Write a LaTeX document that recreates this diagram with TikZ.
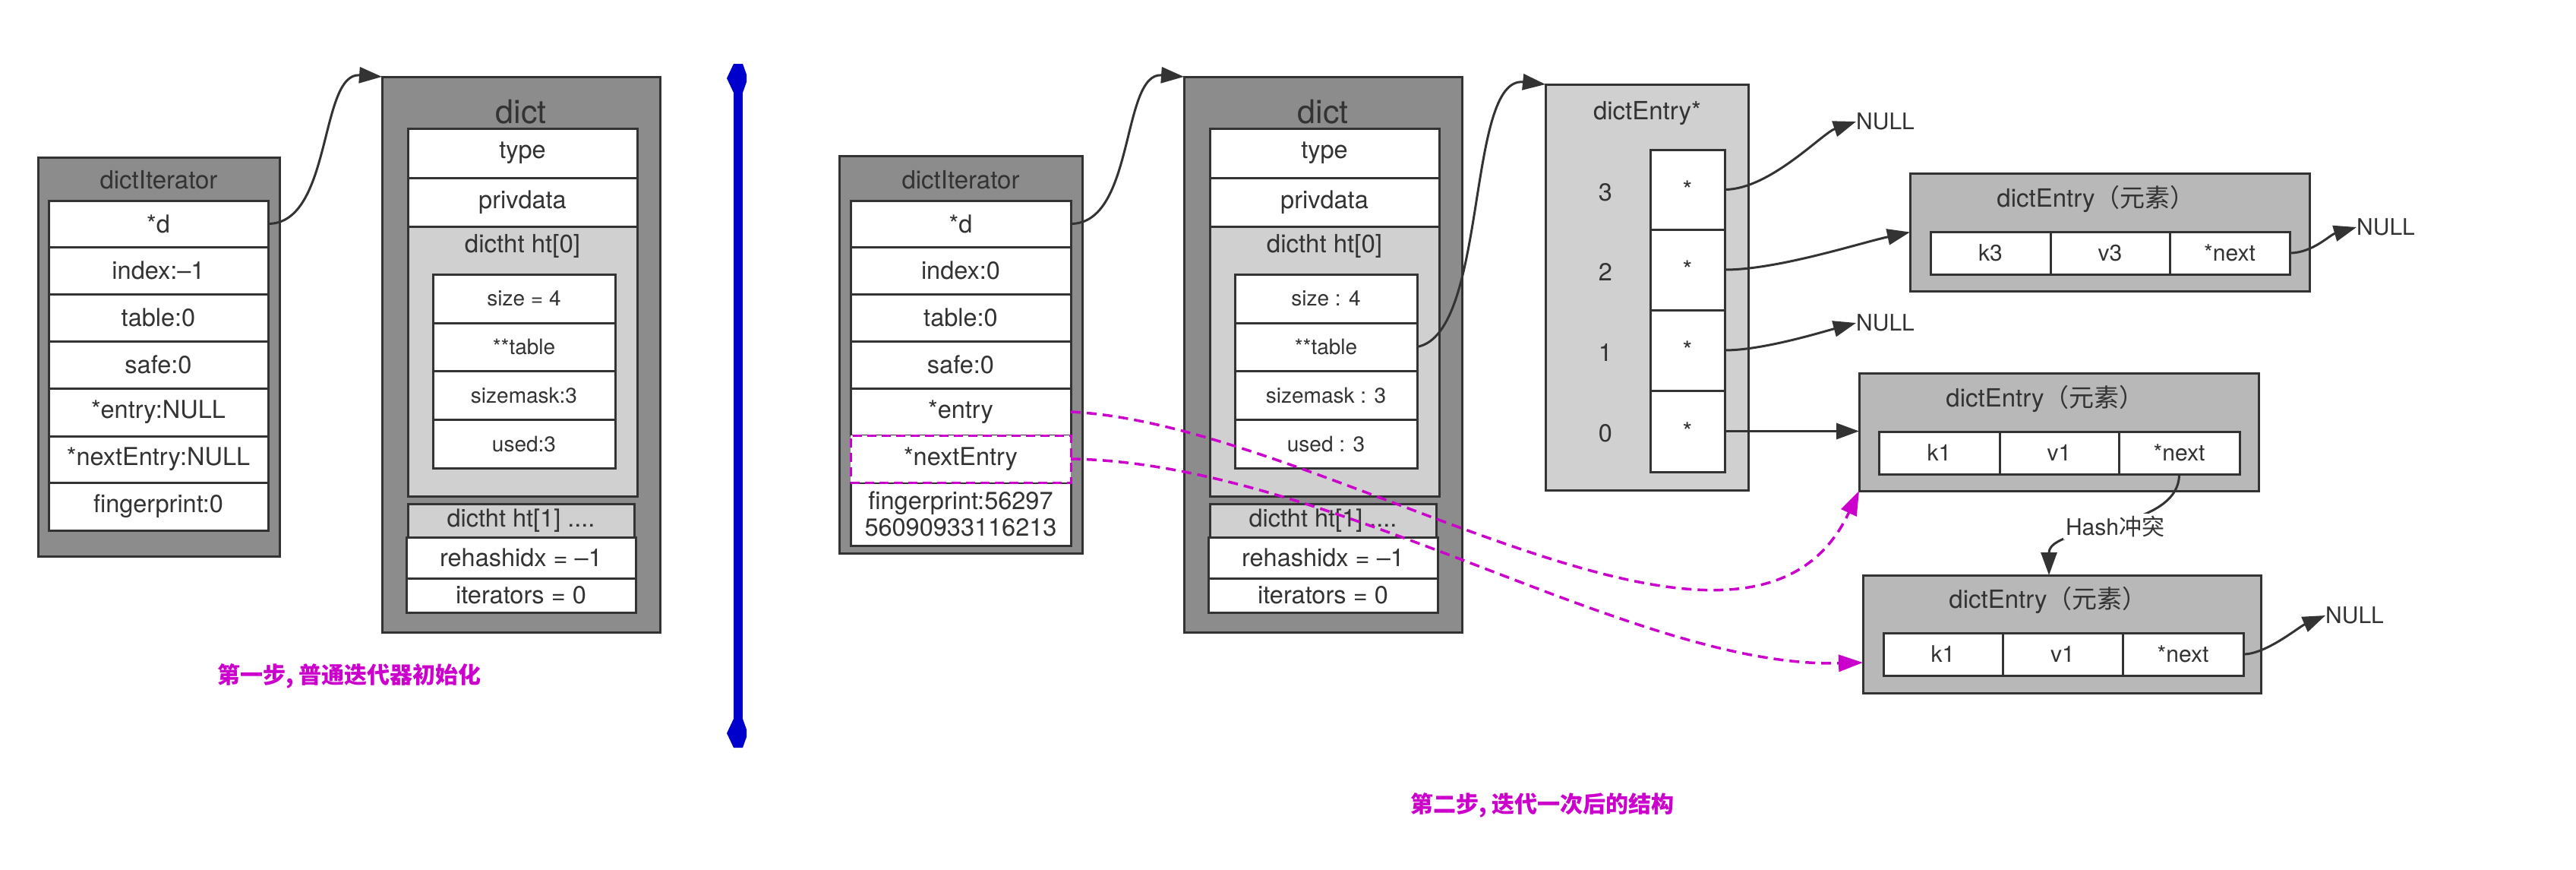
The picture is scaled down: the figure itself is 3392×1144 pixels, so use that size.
\documentclass[tikz,border=0pt]{standalone}
\usepackage{fontspec}
\setmainfont{TeX Gyre Heros}
\newfontfamily\cjk{Noto Sans CJK SC}
\usetikzlibrary{arrows.meta,calc}
\definecolor{cInk}{HTML}{333333}
\definecolor{cDark}{HTML}{8C8C8C}
\definecolor{cLight}{HTML}{D0D0D0}
\definecolor{cEntry}{HTML}{B8B8B8}
\definecolor{cMag}{HTML}{CC00CC}
\definecolor{cBlue}{HTML}{0000CC}
\newcommand\mybox[7]{\node[#1,anchor=north west,inner sep=0pt,outer sep=0pt,minimum width={(#5-#3)*1pt},minimum height={(#6-#4)*1pt}] (#2) at (#3,#4) {#7};}
\tikzset{
  every node/.style={text=cInk,font=\fontsize{32.5}{35}\selectfont},
  outerbox/.style={draw=cInk,fill=cDark,line width=3pt},
  rowbox/.style={draw=cInk,fill=white,line width=3pt},
  lightbox/.style={draw=cInk,fill=cLight,line width=3pt},
  entrybox/.style={draw=cInk,fill=cEntry,line width=3pt},
  small/.style={font=\fontsize{28}{31}\selectfont},
  ent/.style={font=\fontsize{30}{33}\selectfont},
  ttl/.style={font=\fontsize{33}{36}\selectfont},
  nulltxt/.style={font=\fontsize{30}{33}\selectfont,anchor=west,inner sep=0pt},
  conn/.style={draw=cInk,line width=3pt,-{Triangle[length=30pt,width=21pt]}},
  dconn/.style={draw=cMag,line width=3.5pt,dash pattern=on 13pt off 8pt,-{Triangle[length=32pt,width=22pt]}},
  caption/.style={font=\cjk\bfseries\fontsize{30}{33}\selectfont,text=cMag},
}
\begin{document}
\begin{tikzpicture}[x=1pt,y=-1pt]
\useasboundingbox (0,0) rectangle (3392,1144);

% ---------- step 1: iterator ----------
\mybox{outerbox}{itA}{50}{207}{368}{732}{}
\node[ttl] (itAtitle) at (209,237) {dictIterator};
\mybox{rowbox}{itAd}{64}{264}{353}{325}{*d}
\mybox{rowbox}{itAi}{64}{325}{353}{387}{index:–1}
\mybox{rowbox}{itAt}{64}{387}{353}{449}{table:0}
\mybox{rowbox}{itAs}{64}{449}{353}{511}{safe:0}
\mybox{rowbox}{itAe}{64}{511}{353}{574}{*entry:NULL}
\mybox{rowbox}{itAn}{64}{574}{353}{635}{*nextEntry:NULL}
\mybox{rowbox}{itAf}{64}{635}{353}{698}{fingerprint:0}

% ---------- step 1: dict ----------
\mybox{outerbox}{dA}{503}{101}{869}{832}{}
\node[font=\fontsize{43}{47}\selectfont] (dAtitle) at (686,147) {dict};
\mybox{rowbox}{dAtype}{537}{169}{839}{234}{type}
\mybox{rowbox}{dApriv}{537}{234}{839}{298}{privdata}
\mybox{lightbox}{dAht}{537}{298}{839}{653}{}
\node[ttl] (dAhttitle) at (688,324) {dictht ht[0]};
\mybox{rowbox,small}{dAs1}{570}{361}{810}{425}{size = 4}
\mybox{rowbox,small}{dAs2}{570}{425}{810}{488}{**table}
\mybox{rowbox,small}{dAs3}{570}{488}{810}{552}{sizemask:3}
\mybox{rowbox,small}{dAs4}{570}{552}{810}{616}{used:3}
\mybox{lightbox}{dAht1}{537}{663}{835}{707}{dictht ht[1] ....}
\mybox{rowbox}{dArh}{535}{707}{837}{761}{rehashidx = –1}
\mybox{rowbox}{dAit}{535}{761}{837}{806}{iterators = 0}

\draw[conn] (itAd.east) .. controls +(85,0) and +(-83,-6) .. (dA.north west);

\node[caption] (capA) at (460,890) {第一步, 普通迭代器初始化};

% ---------- separator ----------
\fill[cBlue] (966,95) rectangle (978,975);
\fill[cBlue] (966,84) -- (978,84) -- (983,98) -- (983,108) -- (978,122) -- (966,122) -- (957,103) -- cycle;
\fill[cBlue] (966,984) -- (978,984) -- (983,970) -- (983,960) -- (978,946) -- (966,946) -- (957,965) -- cycle;

% ---------- step 2: iterator ----------
\mybox{outerbox}{itB}{1105}{205}{1425}{728}{}
\node[ttl] (itBtitle) at (1265,237) {dictIterator};
\mybox{rowbox}{itBd}{1120}{264}{1410}{325}{*d}
\mybox{rowbox}{itBi}{1120}{325}{1410}{387}{index:0}
\mybox{rowbox}{itBt}{1120}{387}{1410}{449}{table:0}
\mybox{rowbox}{itBs}{1120}{449}{1410}{511}{safe:0}
\mybox{rowbox}{itBe}{1120}{511}{1410}{573}{*entry}
\mybox{rowbox,align=center}{itBf}{1120}{635}{1410}{718}{fingerprint:56297\\56090933116213}
\mybox{rowbox,draw=cMag,dash pattern=on 12pt off 7pt}{itBn}{1120}{573}{1410}{635}{*nextEntry}

% ---------- step 2: dict ----------
\mybox{outerbox}{dB}{1559}{101}{1925}{832}{}
\node[font=\fontsize{43}{47}\selectfont] (dBtitle) at (1742,147) {dict};
\mybox{rowbox}{dBtype}{1593}{169}{1895}{234}{type}
\mybox{rowbox}{dBpriv}{1593}{234}{1895}{298}{privdata}
\mybox{lightbox}{dBht}{1593}{298}{1895}{653}{}
\node[ttl] (dBhttitle) at (1744,324) {dictht ht[0]};
\mybox{rowbox,small}{dBs1}{1626}{361}{1866}{425}{size : 4}
\mybox{rowbox,small}{dBs2}{1626}{425}{1866}{488}{**table}
\mybox{rowbox,small}{dBs3}{1626}{488}{1866}{552}{sizemask : 3}
\mybox{rowbox,small}{dBs4}{1626}{552}{1866}{616}{used : 3}
\mybox{lightbox}{dBht1}{1593}{663}{1891}{707}{dictht ht[1] ....}
\mybox{rowbox}{dBrh}{1591}{707}{1893}{761}{rehashidx = –1}
\mybox{rowbox}{dBit}{1591}{761}{1893}{806}{iterators = 0}

\draw[conn] (itBd.east) .. controls +(85,0) and +(-83,-6) .. (dB.north west);

% ---------- dictEntry* table ----------
\mybox{lightbox}{de}{2035}{111}{2302}{645}{}
\node[ttl] (detitle) at (2169,149) {dictEntry*};
\mybox{rowbox}{dc3}{2173}{197}{2271}{302}{*}
\mybox{rowbox}{dc2}{2173}{302}{2271}{408}{*}
\mybox{rowbox}{dc1}{2173}{408}{2271}{514}{*}
\mybox{rowbox}{dc0}{2173}{514}{2271}{621}{*}
\node (ix3) at (2114,253) {3};
\node (ix2) at (2114,358) {2};
\node (ix1) at (2114,464) {1};
\node (ix0) at (2114,570) {0};

\draw[conn] (dBs2.east) .. controls +(94,-17) and +(-105,-11) .. (de.north west);

% ---------- dictEntry k3 ----------
\mybox{entrybox}{eK}{2515}{228}{3041}{383}{}
\node[ttl] (eKtitle) at (2760,262) {dictEntry{\cjk （元素）}};
\mybox{rowbox,ent}{eKk}{2542}{305}{2700}{361}{k3}
\mybox{rowbox,ent}{eKv}{2700}{305}{2857}{361}{v3}
\mybox{rowbox,ent}{eKn}{2857}{305}{3015}{361}{*next}

% ---------- dictEntry k1 (a) ----------
\mybox{entrybox}{eA}{2448}{491}{2974}{646}{}
\node[ttl] (eAtitle) at (2693,525) {dictEntry{\cjk （元素）}};
\mybox{rowbox,ent}{eAk}{2474}{568}{2633}{624}{k1}
\mybox{rowbox,ent}{eAv}{2633}{568}{2790}{624}{v1}
\mybox{rowbox,ent}{eAn}{2790}{568}{2949}{624}{*next}

% ---------- dictEntry k1 (b) ----------
\mybox{entrybox}{eB}{2453}{757}{2977}{912}{}
\node[ttl] (eBtitle) at (2697,790) {dictEntry{\cjk （元素）}};
\mybox{rowbox,ent}{eBk}{2480}{833}{2637}{889}{k1}
\mybox{rowbox,ent}{eBv}{2637}{833}{2795}{889}{v1}
\mybox{rowbox,ent}{eBn}{2795}{833}{2954}{889}{*next}

% ---------- NULL labels ----------
\node[nulltxt] (nl1) at (2444,160) {NULL};
\node[nulltxt] (nl2) at (2444,425) {NULL};
\node[nulltxt] (nl3) at (3103,299) {NULL};
\node[nulltxt] (nl4) at (3062,810) {NULL};

\draw[conn] (dc3.east) .. controls +(59,0) and +(-44,15) .. (nl1.west);
\draw[conn] (dc2.east) .. controls +(70,0) and +(-65,14) .. (eK.west);
\draw[conn] (dc1.east) .. controls +(50,0) and +(-45,12) .. (nl2.west);
\draw[conn] (dc0.east) -- (dc0.east -| eA.west);
\draw[conn] (eKn.east) .. controls +(30,0) and +(-35,10) .. (nl3.west);
\draw[conn] (eBn.east) .. controls +(30,0) and +(-35,15) .. (nl4.west);

\coordinate (hashEnd) at (2698,757);
\draw[conn] (eAn.south) .. controls +(0,76) and +(0,-67) .. (hashEnd);
\node[fill=white,inner sep=3pt,font=\fontsize{30}{33}\selectfont] (hash) at (2785,693) {Hash{\cjk 冲突}};

% ---------- magenta iteration pointers ----------
\draw[dconn] (itBe.east) .. controls +(340,17) and +(-148,314) .. (eA.south west);
\draw[dconn] (itBn.east) .. controls +(340,5) and +(-303,8) .. ($(eB.south west)+(0,-40)$);

\node[caption] (capB) at (2031,1060) {第二步, 迭代一次后的结构};
\end{tikzpicture}
\end{document}
